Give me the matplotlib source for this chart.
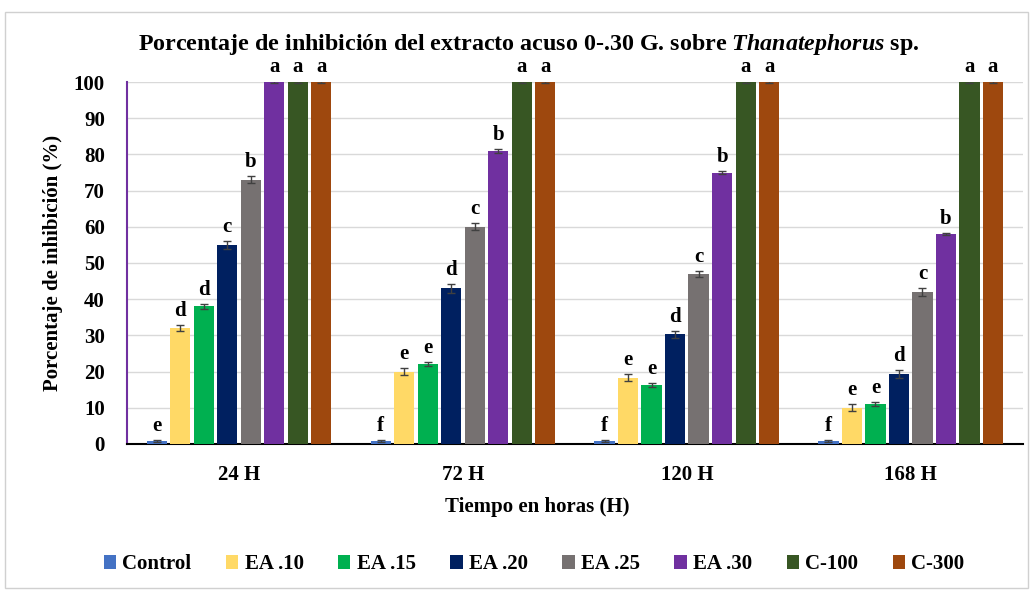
import numpy as np
import matplotlib.pyplot as plt
from matplotlib.patches import Rectangle

# Données
tiempos = ['24 H', '72 H', '120 H', '168 H']
tratamientos = ['Control', 'EA .10', 'EA .15', 'EA .20', 'EA .25', 'EA .30', 'C-100', 'C-300']
colores = ['#4472C4', '#FFD966', '#00B050', '#002060', '#767171', '#7030A0', '#375623', '#9E480E']

# une liste par traitement : valeurs pour 24 H, 72 H, 120 H, 168 H
control = [0.8, 0.8, 0.8, 0.8]
ea10 = [32, 20, 18.3, 10]
ea15 = [38, 22, 16.3, 11]
ea20 = [55, 43, 30.3, 19.3]
ea25 = [73, 60, 47, 42]
ea30 = [100, 81, 75, 58]
c100 = [100, 100, 100, 100]
c300 = [100, 100, 100, 100]
valores = [control, ea10, ea15, ea20, ea25, ea30, c100, c300]

err_control = [0.3, 0.3, 0.3, 0.3]
err_ea10 = [0.8, 1.0, 1.0, 0.9]
err_ea15 = [0.7, 0.5, 0.5, 0.5]
err_ea20 = [1.0, 1.2, 0.9, 1.0]
err_ea25 = [1.0, 1.0, 0.8, 1.0]
err_ea30 = [0.3, 0.5, 0.4, 0.3]
err_c100 = [0.2, 0.2, 0.2, 0.2]
err_c300 = [0.2, 0.2, 0.2, 0.2]
errores = [err_control, err_ea10, err_ea15, err_ea20, err_ea25, err_ea30, err_c100, err_c300]

letras = [
    ['e', 'f', 'f', 'f'],
    ['d', 'e', 'e', 'e'],
    ['d', 'e', 'e', 'e'],
    ['c', 'd', 'd', 'd'],
    ['b', 'c', 'c', 'c'],
    ['a', 'b', 'b', 'b'],
    ['a', 'a', 'a', 'a'],
    ['a', 'a', 'a', 'a'],
]

plt.rcParams['font.family'] = 'Liberation Serif'
plt.rcParams['font.weight'] = 'bold'
plt.rcParams['mathtext.fontset'] = 'custom'
plt.rcParams['mathtext.it'] = 'Liberation Serif:italic:bold'
plt.rcParams['mathtext.rm'] = 'Liberation Serif:bold'

fig = plt.figure(figsize=(10.33, 5.91), dpi=100)
ax = fig.add_axes([0.123, 0.249, 0.867, 0.612])

x = np.arange(len(tiempos))
paso = 0.105
ancho = 0.09
for i, nombre in enumerate(tratamientos):
    pos = x + (i - 3.5) * paso
    ax.bar(pos, valores[i], width=ancho, color=colores[i], label=nombre, zorder=3)
    ax.errorbar(pos, valores[i], yerr=errores[i], fmt='none', ecolor='#404040',
                elinewidth=1, capsize=3, capthick=1, zorder=4)
    for j in range(len(tiempos)):
        ax.annotate(letras[i][j], (pos[j], valores[i][j] + errores[i][j]),
                    xytext=(0, 3), textcoords='offset points', ha='center', va='bottom',
                    fontsize=15, fontweight='bold', annotation_clip=False)

ax.set_xlim(-0.5, 3.5)
ax.set_ylim(0, 100)
ax.set_yticks(np.arange(0, 101, 10))
ax.set_xticks(x)
ax.set_xticklabels(tiempos)
ax.tick_params(axis='both', length=0, labelsize=15)
ax.tick_params(axis='x', pad=15)
ax.tick_params(axis='y', pad=16)
ax.grid(axis='y', color='#D9D9D9', linewidth=1, zorder=0)

ax.spines['top'].set_visible(False)
ax.spines['right'].set_visible(False)
ax.spines['left'].set_color('#7030A0')
ax.spines['left'].set_linewidth(1.5)
ax.spines['bottom'].set_color('black')
ax.spines['bottom'].set_linewidth(1.5)

ax.set_ylabel('Porcentaje de inhibición (%)', fontsize=15, fontweight='bold', labelpad=8)
fig.text(0.52, 0.142, 'Tiempo en horas (H)', ha='center', va='center', fontsize=15, fontweight='bold')
fig.text(0.512, 0.925, 'Porcentaje de inhibición del extracto acuso 0-.30 G. sobre $\\mathit{Thanatephorus}$ sp.',
         ha='center', va='center', fontsize=17.3, fontweight='bold')

fig.legend(loc='center', bbox_to_anchor=(0.517, 0.045), ncol=8, frameon=False,
           fontsize=15, handlelength=0.6, handleheight=0.6, handletextpad=0.3, columnspacing=1.65)

# cadre gris autour de la figure
fig.patches.append(Rectangle((0.005, 0.005), 0.99, 0.975, transform=fig.transFigure,
                             fill=False, edgecolor='#D0D0D0', linewidth=1))

fig.savefig('out.png', dpi=100)
